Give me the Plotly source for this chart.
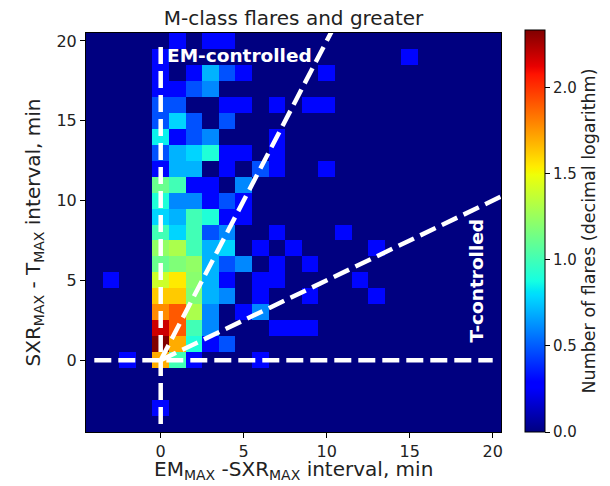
import numpy as np
import plotly.graph_objects as go

# Bin centres (minutes)
x_bins = list(range(-4, 21))            # EM_MAX - SXR_MAX
y_bins = list(range(20, -5, -1))        # SXR_MAX - T_MAX (rows top -> bottom)

# Number of flares per 1-min bin (rows: y = 20 ... -4, columns: x = -4 ... 20)
counts = [
    [0, 0, 0, 0, 0, 2, 0, 2, 2, 0, 0, 0, 0, 0, 0, 0, 0, 0, 0, 0, 0, 0, 0, 0, 0],   # 20
    [0, 0, 0, 0, 2, 0, 0, 0, 0, 0, 0, 0, 0, 0, 0, 0, 0, 0, 0, 2, 0, 0, 0, 0, 0],   # 19
    [0, 0, 0, 0, 2, 0, 2, 5, 3, 2, 0, 0, 0, 0, 2, 0, 0, 0, 0, 0, 0, 0, 0, 0, 0],   # 18
    [0, 0, 0, 0, 2, 2, 3, 4, 0, 0, 0, 0, 0, 0, 0, 0, 0, 0, 0, 0, 0, 0, 0, 0, 0],   # 17
    [0, 0, 0, 0, 3, 3, 0, 0, 2, 2, 0, 2, 0, 2, 2, 0, 0, 0, 0, 0, 0, 0, 0, 0, 0],   # 16
    [0, 0, 0, 0, 3, 6, 3, 0, 3, 0, 0, 0, 0, 0, 0, 0, 0, 0, 0, 0, 0, 0, 0, 0, 0],   # 15
    [0, 0, 0, 0, 7, 2, 3, 4, 0, 0, 0, 2, 0, 0, 0, 0, 0, 0, 0, 0, 0, 0, 0, 0, 0],   # 14
    [0, 0, 0, 0, 3, 5, 6, 8, 2, 2, 0, 2, 0, 0, 0, 0, 0, 0, 0, 0, 0, 0, 0, 0, 0],   # 13
    [0, 0, 0, 0, 2, 5, 5, 0, 2, 0, 3, 2, 0, 0, 2, 0, 0, 0, 0, 0, 0, 0, 0, 0, 0],   # 12
    [0, 0, 0, 0, 13, 10, 2, 2, 0, 4, 0, 0, 0, 0, 0, 0, 0, 0, 0, 0, 0, 0, 0, 0, 0], # 11
    [0, 0, 0, 0, 8, 4, 4, 2, 3, 2, 0, 0, 0, 0, 0, 0, 0, 0, 0, 0, 0, 0, 0, 0, 0],   # 10
    [0, 0, 0, 0, 6, 5, 10, 8, 2, 2, 0, 0, 0, 0, 0, 0, 0, 0, 0, 0, 0, 0, 0, 0, 0],  # 9
    [0, 0, 0, 0, 10, 6, 10, 3, 4, 0, 0, 2, 0, 0, 0, 2, 0, 0, 0, 0, 0, 0, 0, 0, 0], # 8
    [0, 0, 0, 0, 17, 20, 10, 5, 6, 0, 2, 0, 2, 0, 0, 0, 0, 2, 0, 0, 0, 0, 0, 0, 0],# 7
    [0, 0, 0, 0, 13, 15, 17, 5, 3, 4, 0, 2, 0, 2, 0, 0, 0, 0, 0, 0, 0, 0, 0, 0, 0],# 6
    [0, 2, 0, 0, 25, 35, 16, 5, 2, 0, 2, 2, 0, 0, 0, 0, 2, 0, 0, 0, 0, 0, 0, 0, 0],# 5
    [0, 0, 0, 0, 42, 42, 15, 5, 4, 0, 2, 0, 0, 2, 0, 0, 0, 2, 0, 0, 0, 0, 0, 0, 0],# 4
    [0, 0, 0, 0, 60, 80, 20, 4, 0, 2, 4, 0, 0, 0, 0, 0, 0, 0, 0, 0, 0, 0, 0, 0, 0],# 3
    [0, 0, 0, 0, 150, 80, 10, 4, 0, 0, 0, 2, 2, 2, 0, 0, 0, 0, 0, 0, 0, 0, 0, 0, 0],# 2
    [0, 0, 0, 0, 215, 50, 8, 2, 3, 0, 0, 0, 0, 0, 0, 0, 0, 0, 0, 0, 0, 0, 0, 0, 0],# 1
    [0, 0, 2, 0, 50, 10, 2, 0, 0, 0, 2, 0, 0, 0, 0, 0, 0, 0, 0, 0, 0, 0, 0, 0, 0], # 0
    [0] * 25,                                                                       # -1
    [0] * 25,                                                                       # -2
    [0, 0, 0, 0, 2, 0, 0, 0, 0, 0, 0, 0, 0, 0, 0, 0, 0, 0, 0, 0, 0, 0, 0, 0, 0],   # -3
    [0] * 25,                                                                       # -4
]

axis_ticks = [0, 5, 10, 15, 20]
cbar_ticks = [0.0, 0.5, 1.0, 1.5, 2.0]

# Boundary lines (slopes of the EM- and T-controlled regions)
em_slope = 2.0
t_slope = 0.5
line_x_end = 20.5

title_text = "M-class flares and greater"
x_title = "EM<sub>MAX</sub> -SXR<sub>MAX</sub> interval, min"
y_title = "SXR<sub>MAX</sub> - T<sub>MAX</sub> interval, min"
cbar_title = "Number of flares (decimal logarithm)"

# ---------------------------------------------------------------------------
z = np.log10(np.maximum(np.array(counts, dtype=float), 1.0))
zmax = float(z.max())


def mpl_jet(n=32):
    r = [(0, 0), (0.35, 0), (0.66, 1), (0.89, 1), (1, 0.5)]
    g = [(0, 0), (0.125, 0), (0.375, 1), (0.64, 1), (0.91, 0), (1, 0)]
    b = [(0, 0.5), (0.11, 1), (0.34, 1), (0.65, 0), (1, 0)]
    stops = sorted(set([p for p, _ in r + g + b] + list(np.linspace(0, 1, n))))
    out = []
    for s in stops:
        cr = np.interp(s, [p for p, _ in r], [v for _, v in r])
        cg = np.interp(s, [p for p, _ in g], [v for _, v in g])
        cb = np.interp(s, [p for p, _ in b], [v for _, v in b])
        out.append([float(s), "rgb(%d,%d,%d)" % (round(cr * 255), round(cg * 255), round(cb * 255))])
    return out


FONT = "DejaVu Sans"
OFF = 8                      # page body margin of the browser
W, H = 610 - OFF, 486 - OFF
L, R, T, B = 86 - OFF, 109, 33 - OFF, 54
plot_w = W - L - R
plot_h = H - T - B

fig = go.Figure()
fig.add_trace(go.Heatmap(
    x=x_bins, y=y_bins, z=z, zmin=0, zmax=zmax,
    colorscale=mpl_jet(),
    colorbar=dict(
        thickness=20, lenmode="pixels", len=402,
        x=(525 - OFF - L) / plot_w, xanchor="left", xpad=0,
        y=((H - B) - (231 - OFF)) / plot_h, yanchor="middle", ypad=0,
        outlinewidth=1, outlinecolor="black",
        ticks="outside", ticklen=5, tickcolor="black",
        tickvals=cbar_ticks, ticktext=["%.1f" % v for v in cbar_ticks],
        tickfont=dict(family=FONT, size=15, color="#222"),
        title=dict(text=cbar_title, side="right",
                   font=dict(family=FONT, size=17.5, color="#222")),
    ),
    hoverinfo="skip",
))

dash_style = dict(color="white", width=4.5, dash="17px,7px")
fig.add_trace(go.Scatter(x=[-4, 20], y=[0, 0], mode="lines", line=dash_style, hoverinfo="skip"))
fig.add_trace(go.Scatter(x=[0, 0], y=[-4, 20], mode="lines", line=dash_style, hoverinfo="skip"))
fig.add_trace(go.Scatter(x=[0, line_x_end], y=[0, em_slope * line_x_end], mode="lines",
                         line=dash_style, hoverinfo="skip"))
fig.add_trace(go.Scatter(x=[0, line_x_end], y=[0, t_slope * line_x_end], mode="lines",
                         line=dash_style, hoverinfo="skip"))

fig.add_annotation(x=0.25, y=19.1, xref="x", yref="y", text="<b>EM-controlled</b>",
                   showarrow=False, xanchor="left", yanchor="middle",
                   font=dict(family=FONT, size=18.5, color="white"))
fig.add_annotation(x=19.0, y=5.0, xref="x", yref="y", text="<b>T-controlled</b>",
                   showarrow=False, textangle=-90, xanchor="center", yanchor="middle",
                   font=dict(family=FONT, size=18.5, color="white"))

# x-axis title as an annotation (placed closer to the tick labels)
fig.add_annotation(x=0.5, y=-(470 - 432) / plot_h, xref="paper", yref="paper",
                   text=x_title, showarrow=False, xanchor="center", yanchor="middle",
                   font=dict(family=FONT, size=20, color="#222"))

axis_common = dict(
    tickvals=axis_ticks, ticks="outside", ticklen=5, tickcolor="black",
    showline=True, mirror=True, linecolor="black", linewidth=1,
    showgrid=False, zeroline=False,
    tickfont=dict(family=FONT, size=16, color="#222"),
)
fig.update_xaxes(range=[-4.5, 20.5], **axis_common)
fig.update_yaxes(range=[-4.5, 20.5], title=dict(text=y_title, standoff=10,
                 font=dict(family=FONT, size=20, color="#222")), **axis_common)

fig.update_layout(
    width=W, height=H,
    margin=dict(l=L, r=R, t=T, b=B, autoexpand=False),
    paper_bgcolor="white", plot_bgcolor="#00007F",
    showlegend=False,
    title=dict(text=title_text, x=(L + plot_w / 2) / W, xanchor="center",
               y=1 - (18 - OFF) / H, yanchor="middle",
               font=dict(family=FONT, size=20, color="#222")),
)

fig.write_html("out.html")
